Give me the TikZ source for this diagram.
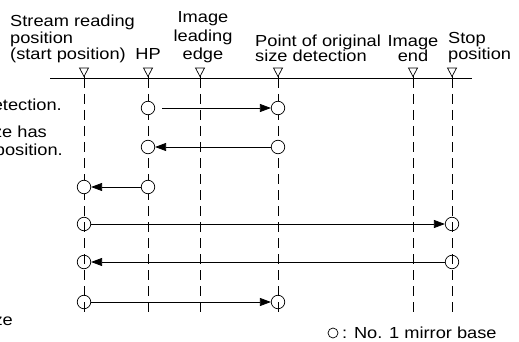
\documentclass[tikz,border=0pt]{standalone}
\usepackage{fontspec}
\setmainfont{Liberation Sans}[FakeStretch=1.14]
\usetikzlibrary{arrows.meta}
\begin{document}
\begin{tikzpicture}[x=1pt,y=-1pt,
  txt/.style={font=\fontsize{16}{16}\selectfont, inner sep=0pt},
  axis/.style={line width=0.8pt},
  guide/.style={line width=0.8pt, dash pattern=on 10pt off 6pt},
  tri/.style={line width=0.7pt},
  mirror/.style={circle, draw, line width=0.7pt, minimum size=13.5pt, inner sep=0pt},
  hollow/.style={mirror, fill=white},
  move/.style={line width=0.8pt, -{Triangle[length=11pt,width=8pt]}}
]
\useasboundingbox (0,0) rectangle (519,342);

% labels
\node[txt, anchor=base west] (l1a) at (10,27) {Stream reading};
\node[txt, anchor=base west] (l1b) at (10,43.5) {position};
\node[txt, anchor=base west] (l1c) at (10,60) {(start position)};
\node[txt, anchor=base] (l2) at (148,60) {HP};
\node[txt, anchor=base] (l3a) at (203,23) {Image};
\node[txt, anchor=base] (l3b) at (203,41.5) {leading};
\node[txt, anchor=base] (l3c) at (203,60) {edge};
\node[txt, anchor=base west] (l4a) at (255,46.5) {Point of original};
\node[txt, anchor=base west] (l4b) at (255,62) {size detection};
\node[txt, anchor=base] (l5a) at (413,47) {Image};
\node[txt, anchor=base] (l5b) at (413,62) {end};
\node[txt, anchor=base west] (l6a) at (448,44) {Stop};
\node[txt, anchor=base west] (l6b) at (448,60) {position};

% clipped side texts
\node[txt, anchor=base east] (c1) at (62,111) {etection.};
\node[txt, anchor=base east] (c2) at (47,138) {ze has};
\node[txt, anchor=base east] (c3) at (63,155) {position.};
\node[txt, anchor=base east] (c4) at (13,325) {ze};

% axis
\coordinate (axL) at (50,78);
\coordinate (axR) at (472,78);
\draw[axis] (axL) -- (axR);

% guides with markers
\foreach \n/\x in {s/84, h/148, e/200, d/278, n/413, p/452}{
  \coordinate (\n top) at (\x,78);
  \coordinate (\n bot) at (\x,318);
  \draw[guide] (\n top) -- (\n bot);
  \draw[tri] (\x-4.5,68) -- (\x+4.5,68) -- (\x,76.5) -- cycle;
  \draw[tri] (\x,76.5) -- (\n top);
}

% mirror positions
\node[hollow] (r1h) at (148,108) {};
\node[hollow] (r1d) at (278,108) {};
\node[hollow] (r2h) at (148,147) {};
\node[hollow] (r2d) at (278,147) {};
\node[hollow] (r3s) at (84,187) {};
\node[hollow] (r3h) at (148,187) {};
\node[mirror] (r4s) at (84,224) {};
\node[mirror] (r4p) at (452,224) {};
\node[mirror] (r5s) at (84,262) {};
\node[mirror] (r5p) at (452,262) {};
\node[mirror] (r6s) at (84,302) {};
\node[mirror] (r6d) at (278,302) {};

\draw[move, shorten <=7pt] (r1h) -- (r1d);
\draw[move] (r2d) -- (r2h);
\draw[move] (r3h) -- (r3s);
\draw[move] (r4s) -- (r4p);
\draw[move] (r5p) -- (r5s);
\draw[move] (r6s) -- (r6d);

% legend
\node[circle, draw, line width=0.7pt, minimum size=10pt, inner sep=0pt] (lg) at (333,333) {};
\node[txt, anchor=base west] (lgt) at (342,338) {: No. 1 mirror base};
\end{tikzpicture}
\end{document}
